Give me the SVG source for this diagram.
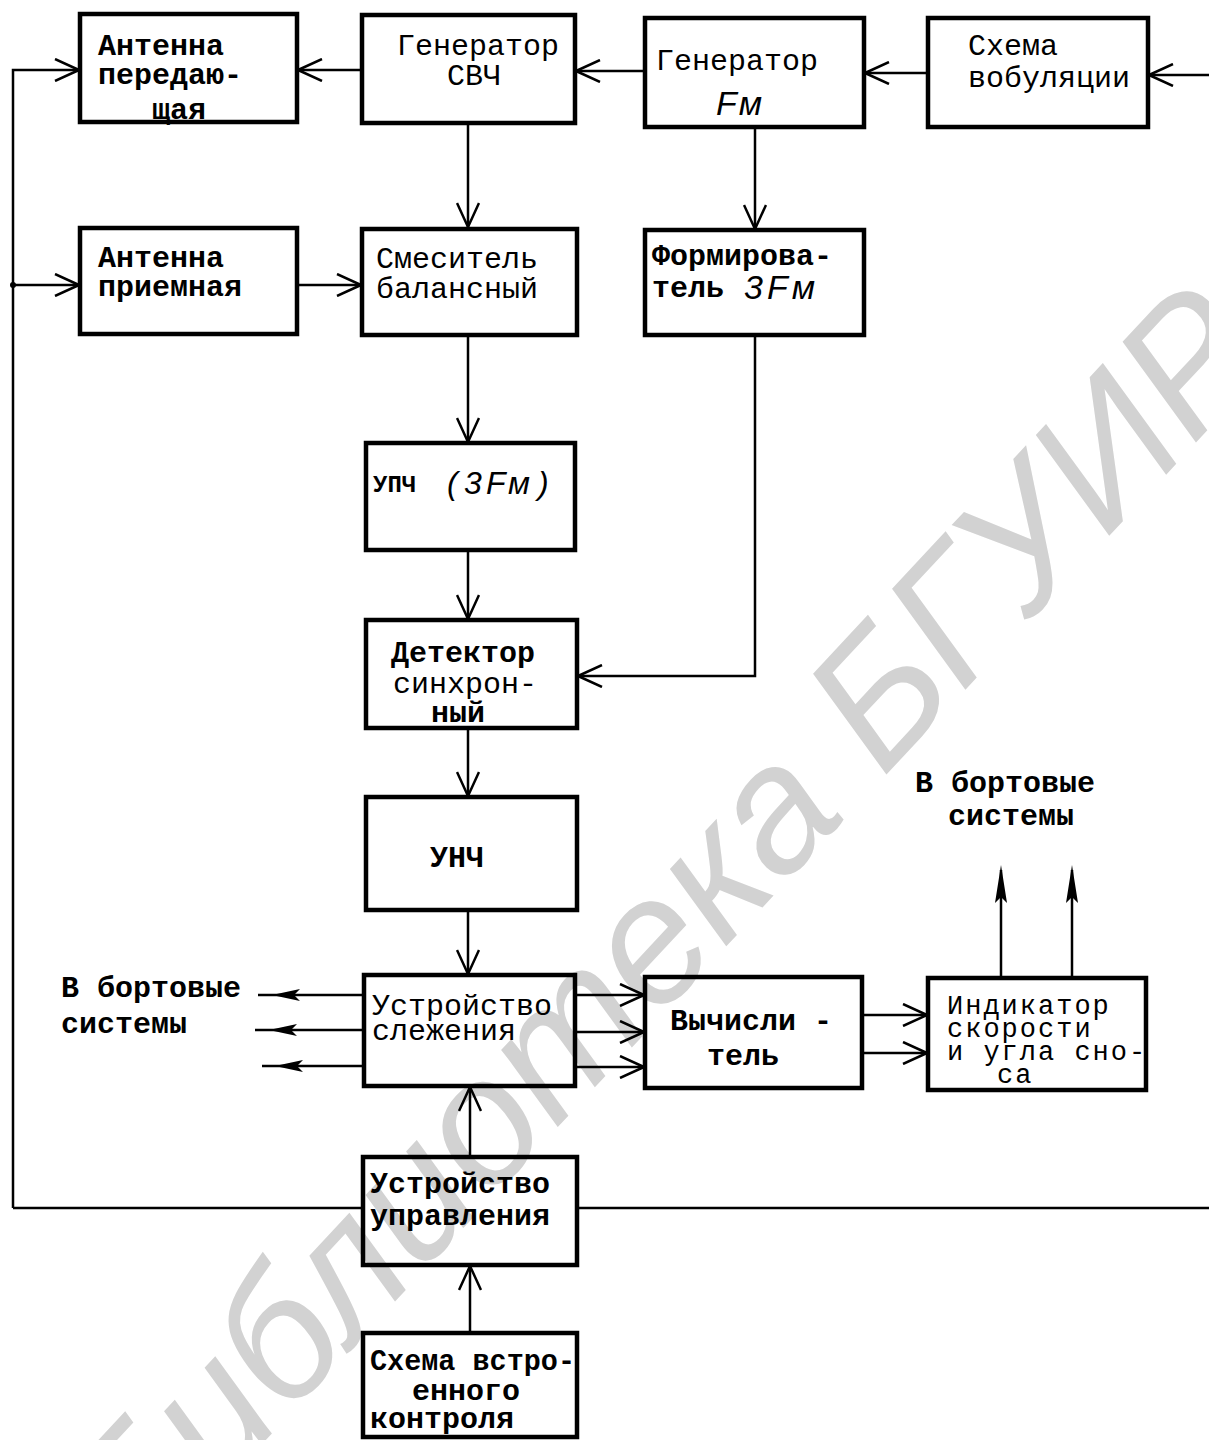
<svg xmlns="http://www.w3.org/2000/svg" width="1209" height="1440" viewBox="0 0 1209 1440">
<style>
.box{fill:none;stroke:#000;stroke-width:4.5}
.ln{fill:none;stroke:#000;stroke-width:2.5}
.t{font-family:"Liberation Mono","DejaVu Sans Mono",monospace;font-size:30px;fill:#000;font-weight:bold}
.tn{font-family:"Liberation Mono","DejaVu Sans Mono",monospace;font-size:30px;fill:#000}
.ts{font-family:"Liberation Mono","DejaVu Sans Mono",monospace;font-size:27px;letter-spacing:2px;fill:#000}
.it{font-family:"Liberation Sans","DejaVu Sans",sans-serif;font-style:italic;font-size:34px;fill:#000}
.wm{font-family:"Liberation Sans","DejaVu Sans",sans-serif;font-style:italic;font-size:178px;fill:#d2d2d2}
.ah{fill:#000;stroke:none}
</style>
<defs>
<marker id="open" markerUnits="userSpaceOnUse" viewBox="0 0 26 24" markerWidth="26" markerHeight="24" refX="25" refY="12" orient="auto">
<path d="M1,1 L25,12 L1,23" fill="none" stroke="#000" stroke-width="2.5"/>
</marker>
</defs>
<rect width="1209" height="1440" fill="#fff"/>
<text class="wm" transform="translate(140,1575) rotate(-47)">Библиотека БГУИР</text>

<g id="connectors">
<line class="ln" x1="1209" y1="75" x2="1149" y2="75" marker-end="url(#open)"/>
<line class="ln" x1="928" y1="73" x2="865" y2="73" marker-end="url(#open)"/>
<line class="ln" x1="645" y1="71" x2="576" y2="71" marker-end="url(#open)"/>
<line class="ln" x1="362" y1="70" x2="298" y2="70" marker-end="url(#open)"/>
<polyline class="ln" points="13,1208 13,70 79,70" marker-end="url(#open)"/>
<line class="ln" x1="13" y1="285" x2="79" y2="285" marker-end="url(#open)"/>
<circle cx="13" cy="285" r="3" fill="#000"/>
<line class="ln" x1="297" y1="285" x2="361" y2="285" marker-end="url(#open)"/>
<line class="ln" x1="468" y1="123" x2="468" y2="227" marker-end="url(#open)"/>
<line class="ln" x1="755" y1="127" x2="755" y2="229" marker-end="url(#open)"/>
<line class="ln" x1="468" y1="335" x2="468" y2="442" marker-end="url(#open)"/>
<line class="ln" x1="468" y1="550" x2="468" y2="619" marker-end="url(#open)"/>
<polyline class="ln" points="755,335 755,676 578,676" marker-end="url(#open)"/>
<line class="ln" x1="468" y1="728" x2="468" y2="796" marker-end="url(#open)"/>
<line class="ln" x1="468" y1="910" x2="468" y2="974" marker-end="url(#open)"/>
<line class="ln" x1="363" y1="995" x2="258" y2="995"/>
<line class="ln" x1="363" y1="1030" x2="255" y2="1030"/>
<line class="ln" x1="363" y1="1066" x2="262" y2="1066"/>
<polygon class="ah" points="272,995 300,989 294,995 300,1001"/>
<polygon class="ah" points="269,1030 297,1024 291,1030 297,1036"/>
<polygon class="ah" points="275,1066 303,1060 297,1066 303,1072"/>
<line class="ln" x1="575" y1="995" x2="644" y2="995" marker-end="url(#open)"/>
<line class="ln" x1="575" y1="1032" x2="644" y2="1032" marker-end="url(#open)"/>
<line class="ln" x1="575" y1="1067" x2="644" y2="1067" marker-end="url(#open)"/>
<line class="ln" x1="862" y1="1015" x2="927" y2="1015" marker-end="url(#open)"/>
<line class="ln" x1="862" y1="1053" x2="927" y2="1053" marker-end="url(#open)"/>
<line class="ln" x1="1001" y1="978" x2="1001" y2="870"/>
<line class="ln" x1="1072" y1="978" x2="1072" y2="870"/>
<polygon class="ah" points="1001,865 1007,903 1001,897 995,903"/>
<polygon class="ah" points="1072,865 1078,903 1072,897 1066,903"/>
<line class="ln" x1="470" y1="1157" x2="470" y2="1087" marker-end="url(#open)"/>
<line class="ln" x1="470" y1="1333" x2="470" y2="1266" marker-end="url(#open)"/>
<line class="ln" x1="363" y1="1208" x2="13" y2="1208"/>
<line class="ln" x1="577" y1="1208" x2="1209" y2="1208"/>
</g>

<g id="ant-tx">
<rect class="box" x="80" y="14" width="217" height="108"/>
<text class="t" x="98" y="55">Антенна</text>
<text class="t" x="98" y="84">передаю-</text>
<text class="t" x="152" y="119">щая</text>
</g>
<g id="gen-svch">
<rect class="box" x="362" y="15" width="213" height="108"/>
<text class="tn" x="397" y="55">Генератор</text>
<text class="tn" x="447" y="85">СВЧ</text>
</g>
<g id="gen-fm">
<rect class="box" x="645" y="18" width="219" height="109"/>
<text class="tn" x="656" y="70">Генератор</text>
<text class="it" x="716" y="115" letter-spacing="2">Fм</text>
</g>
<g id="wobble">
<rect class="box" x="928" y="18" width="220" height="109"/>
<text class="tn" x="968" y="55">Схема</text>
<text class="tn" x="968" y="87">вобуляции</text>
</g>
<g id="ant-rx">
<rect class="box" x="80" y="228" width="217" height="106"/>
<text class="t" x="98" y="267">Антенна</text>
<text class="t" x="98" y="296">приемная</text>
</g>
<g id="mixer">
<rect class="box" x="362" y="229" width="215" height="106"/>
<text class="tn" x="376" y="268">Смеситель</text>
<text class="tn" x="376" y="298">балансный</text>
</g>
<g id="former">
<rect class="box" x="645" y="230" width="219" height="105"/>
<text class="t" x="652" y="265">Формирова-</text>
<text class="t" x="652" y="297">тель</text>
<text class="it" x="744" y="299" letter-spacing="4">3Fм</text>
</g>
<g id="upch">
<rect class="box" x="366" y="443" width="209" height="107"/>
<text class="t" x="373" y="492" style="font-size:24px">УПЧ</text>
<text class="it" x="447" y="494" style="font-size:32px">(</text>
<text class="it" x="464" y="494" style="font-size:32px">3</text>
<text class="it" x="486" y="494" style="font-size:32px">F</text>
<text class="it" x="508" y="494" style="font-size:32px">м</text>
<text class="it" x="538" y="494" style="font-size:32px">)</text>
</g>
<g id="detector">
<rect class="box" x="366" y="620" width="211" height="108"/>
<text class="t" x="391" y="662">Детектор</text>
<text class="tn" x="393" y="693">синхрон-</text>
<text class="t" x="431" y="722">ный</text>
</g>
<g id="unch">
<rect class="box" x="366" y="797" width="211" height="113"/>
<text class="t" x="430" y="867">УНЧ</text>
</g>
<g id="tracker">
<rect class="box" x="364" y="975" width="211" height="111"/>
<text class="tn" x="372" y="1015">Устройство</text>
<text class="tn" x="372" y="1040">слежения</text>
</g>
<g id="out-left">
<text class="t" x="61" y="997">В бортовые</text>
<text class="t" x="61" y="1033">системы</text>
</g>
<g id="computer">
<rect class="box" x="645" y="977" width="217" height="111"/>
<text class="t" x="670" y="1030">Вычисли -</text>
<text class="t" x="707" y="1065">тель</text>
</g>
<g id="indicator">
<rect class="box" x="928" y="978" width="218" height="112"/>
<text class="ts" x="947" y="1014">Индикатор</text>
<text class="ts" x="947" y="1037">скорости</text>
<text class="ts" x="947" y="1060">и угла сно-</text>
<text class="ts" x="997" y="1083">са</text>
</g>
<g id="out-right">
<text class="t" x="915" y="792">В бортовые</text>
<text class="t" x="948" y="825">системы</text>
</g>
<g id="control">
<rect class="box" x="363" y="1157" width="214" height="108"/>
<text class="t" x="370" y="1193">Устройство</text>
<text class="t" x="370" y="1225">управления</text>
</g>
<g id="bist">
<rect class="box" x="363" y="1333" width="214" height="104"/>
<text class="t" x="370" y="1370" textLength="205" lengthAdjust="spacingAndGlyphs">Схема встро-</text>
<text class="t" x="412" y="1400">енного</text>
<text class="t" x="370" y="1428">контроля</text>
</g>
</svg>
